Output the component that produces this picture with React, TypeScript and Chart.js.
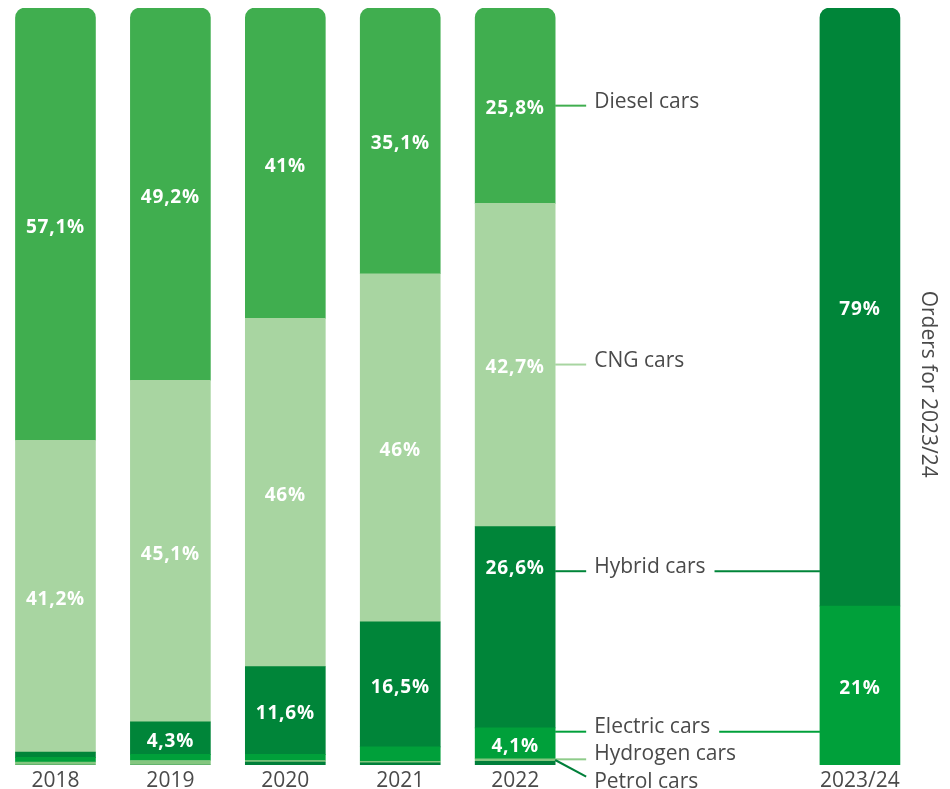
import React, { useEffect, useRef } from "react";
import { Chart, registerables } from "chart.js";

Chart.register(...registerables);

// ---------- data ----------
const categories = ["2018", "2019", "2020", "2021", "2022", "", "", "2023/24"];
const seriesNames = ["Petrol cars", "Hydrogen cars", "Electric cars", "Hybrid cars", "CNG cars", "Diesel cars"];
const petrol = [0, 0, 0.4, 0.3, 0.5, null, null, null];
const hydrogen = [0.4, 0.6, 0.2, 0.2, 0.3, null, null, null];
const electric = [0.6, 0.8, 0.8, 1.9, 4.1, null, null, 21];
const hybrid = [0.7, 4.3, 11.6, 16.5, 26.6, null, null, 79];
const cng = [41.2, 45.1, 46, 46, 42.7, null, null, null];
const diesel = [57.1, 49.2, 41, 35.1, 25.8, null, null, null];

const seriesColors = ["#007f3a", "#84c67f", "#00a03a", "#008539", "#a8d5a1", "#40ae4f"];
const lineColors = ["#007f3a", "#8fcc8a", "#00a03a", "#008539", "#a8d5a1", "#40ae4f"];

// legend annotations next to the 2022 bar (top to bottom), y in % units
const legendSeries = [5, 4, 3, 2, 1, 0];
const legendLineAt = [87.1, 52.9, 25.6, 4.4, 0.75, 0.66];
const legendTextAt = [86.8, 52.6, 25.3, 4.2, 0.62, -3.0];
const petrolLineEndAt = -1.55;
const extendToLastBar = [false, false, true, true, false, false];
const hybrid2022LabelAt = 26.4;
const sideTitle = "Orders for 2023/24";

const FONT = "'Open Sans', 'Noto Sans', sans-serif";
const TEXT = "#4a4a4a";

const fmt = (v: number) => String(v).replace(".", ",") + "%";

const overlayPlugin = {
  id: "overlay",
  afterDatasetsDraw(chart: any) {
    const ctx = chart.ctx;
    const yScale = chart.scales.y;
    const xScale = chart.scales.x;
    ctx.save();

    // value labels inside bars
    ctx.fillStyle = "#ffffff";
    ctx.font = `bold 19px ${FONT}`;
    (ctx as any).letterSpacing = "0.8px";
    ctx.textAlign = "center";
    ctx.textBaseline = "middle";
    chart.data.datasets.forEach((ds: any, di: number) => {
      const meta = chart.getDatasetMeta(di);
      meta.data.forEach((el: any, j: number) => {
        const v = ds.data[j];
        if (v == null || v < 3) return;
        let y = (el.y + el.base) / 2;
        if (di === 3 && j === 4) y = yScale.getPixelForValue(hybrid2022LabelAt);
        ctx.fillText(fmt(v), el.x, y + 3);
      });
    });
    (ctx as any).letterSpacing = "0px";

    // category labels
    ctx.fillStyle = TEXT;
    ctx.font = `21px ${FONT}`;
    ctx.textBaseline = "alphabetic";
    categories.forEach((c, i) => {
      if (!c) return;
      ctx.fillText(c, xScale.getPixelForValue(i), 787);
    });

    // legend with connectors
    const bar2022 = chart.getDatasetMeta(5).data[4];
    const barLast = chart.getDatasetMeta(3).data[7];
    const x0 = bar2022.x + bar2022.width / 2;
    const x1 = x0 + 31;
    const tx = x0 + 39;
    const lastLeft = barLast.x - barLast.width / 2;
    ctx.textAlign = "left";
    ctx.lineWidth = 2;
    legendSeries.forEach((si, k) => {
      const ly = yScale.getPixelForValue(legendLineAt[k]);
      const ty = yScale.getPixelForValue(legendTextAt[k]);
      ctx.strokeStyle = lineColors[si];
      ctx.beginPath();
      if (si === 0) {
        ctx.moveTo(x0, ly);
        ctx.lineTo(x1, yScale.getPixelForValue(petrolLineEndAt));
      } else {
        ctx.moveTo(x0, ly);
        ctx.lineTo(x1, ly);
      }
      ctx.stroke();
      ctx.fillStyle = TEXT;
      ctx.font = `21px ${FONT}`;
      ctx.fillText(seriesNames[si], tx, ty);
      if (extendToLastBar[k]) {
        const w = ctx.measureText(seriesNames[si]).width;
        ctx.beginPath();
        ctx.moveTo(tx + w + 9, ly);
        ctx.lineTo(lastLeft, ly);
        ctx.stroke();
      }
    });

    // vertical side title
    ctx.save();
    ctx.translate(barLast.x + 68, yScale.getPixelForValue(50.3));
    ctx.rotate(Math.PI / 2);
    ctx.textAlign = "center";
    ctx.textBaseline = "middle";
    ctx.fillStyle = TEXT;
    ctx.font = `21px ${FONT}`;
    ctx.fillText(sideTitle, 0, 0);
    ctx.restore();

    ctx.restore();
  },
};

export default function App() {
  const ref = useRef<HTMLCanvasElement | null>(null);
  useEffect(() => {
    if (!ref.current) return;
    const series = [petrol, hydrogen, electric, hybrid, cng, diesel];
    const chart = new Chart(ref.current, {
      type: "bar",
      data: {
        labels: categories,
        datasets: series.map((d, i) => ({
          label: seriesNames[i],
          data: d,
          backgroundColor: seriesColors[i],
          borderWidth: 0,
          borderRadius: 10,
          borderSkipped: "start",
          barThickness: 80,
        })),
      },
      options: {
        animation: false,
        responsive: true,
        maintainAspectRatio: false,
        layout: { padding: { left: 0, right: 32.6, top: 8, bottom: 24 } },
        plugins: { legend: { display: false }, tooltip: { enabled: false } },
        scales: {
          x: { stacked: true, display: false, grid: { display: false } },
          y: { stacked: true, display: false, min: 0, max: 100 },
        },
      },
      plugins: [overlayPlugin],
    });
    return () => chart.destroy();
  }, []);
  return (
    <div style={{ position: "absolute", left: -2, top: 0, width: 952, height: 789 }}>
      <canvas ref={ref} />
    </div>
  );
}
